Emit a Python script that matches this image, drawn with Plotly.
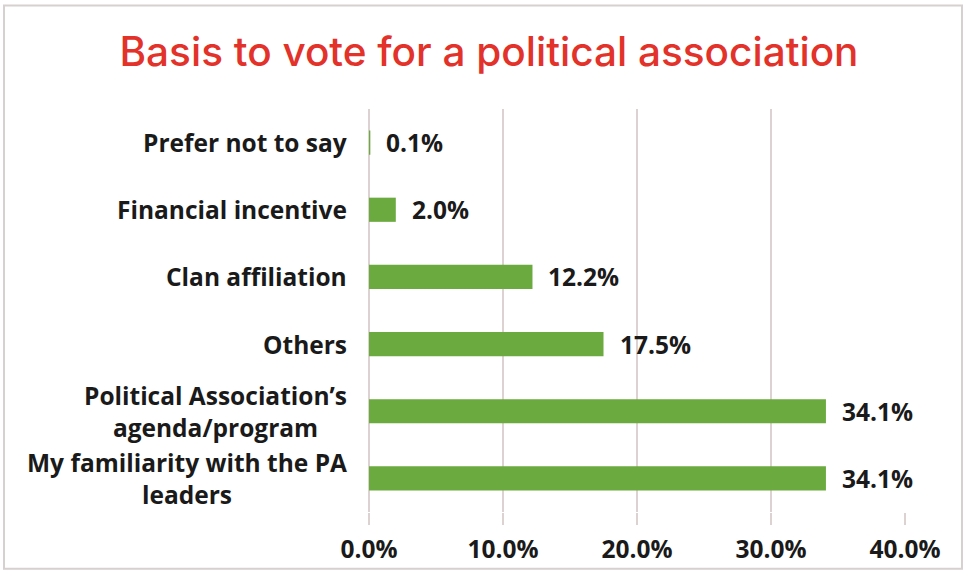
import plotly.graph_objects as go

# Survey categories, listed bottom to top as they appear on the axis
categories = [
    "My familiarity with the PA<br>leaders",
    "Political Association’s<br>agenda/program",
    "Others",
    "Clan affiliation",
    "Financial incentive",
    "Prefer not to say",
]
shares = [34.1, 34.1, 17.5, 12.2, 2.0, 0.1]
x_ticks = [0, 10, 20, 30, 40]
x_tick_labels = ["0.0%", "10.0%", "20.0%", "30.0%", "40.0%"]

W, H = 968, 577
PL, PR, PT, PB = 369, 905, 109, 514  # plot area in pixels

BAR_GREEN = "rgba(106,170,63,0.999)"  # alpha < 1 so sub-pixel bars are not widened
GRID = "#dcd2d2"
TEXT = "#1a1a1a"
LABEL_FONT = "Open Sans"
TITLE_FONT = "Inter"


def px_x(p):
    return (p - PL) / (PR - PL)


def px_y(p):
    return (PB - p) / (PB - PT)


fig = go.Figure(
    go.Bar(
        x=shares,
        y=categories,
        orientation="h",
        marker=dict(color=BAR_GREEN, line=dict(width=0)),
        width=0.36,
        hoverinfo="skip",
    )
)

label_font = dict(family=LABEL_FONT, size=24.5, color=TEXT, weight=700)

annotations = []
# value labels to the right of each bar
for cat, v in zip(categories, shares):
    annotations.append(dict(
        x=v, y=cat, xref="x", yref="y",
        text=f"{v:.1f}%", showarrow=False,
        xanchor="left", yanchor="middle", xshift=14,
        font=label_font,
    ))
# category labels, centred line by line
for cat in categories:
    annotations.append(dict(
        x=0, y=cat, xref="paper", yref="y",
        text=cat, showarrow=False,
        xanchor="right", yanchor="middle", xshift=-20, align="center",
        font=label_font,
    ))

fig.update_layout(
    width=W, height=H,
    margin=dict(l=PL, r=W - PR, t=PT, b=H - PB),
    paper_bgcolor="white", plot_bgcolor="white",
    showlegend=False,
    title=dict(
        text="Basis to vote for a political association",
        x=489 / W, xref="container", xanchor="center",
        y=1 - 52 / H, yref="container", yanchor="middle",
        font=dict(family=TITLE_FONT, size=40.5, color="#e2322a", weight=500),
    ),
    xaxis=dict(
        range=[0, 40], tickvals=x_ticks, ticktext=x_tick_labels,
        showgrid=True, gridcolor=GRID, gridwidth=2,
        zeroline=True, zerolinecolor=GRID, zerolinewidth=2,
        showline=False,
        ticks="outside", ticklen=12, tickwidth=2, tickcolor=GRID,
        ticklabelstandoff=4,
        tickfont=label_font,
        fixedrange=True,
    ),
    yaxis=dict(
        showticklabels=False, showgrid=False, zeroline=False,
        categoryorder="array", categoryarray=categories,
        range=[-0.5, len(categories) - 0.5],
        fixedrange=True,
    ),
    annotations=annotations,
    shapes=[dict(
        type="rect", xref="paper", yref="paper",
        x0=px_x(4), x1=px_x(962), y0=px_y(571), y1=px_y(5),
        line=dict(color="#d6d0d0", width=2), fillcolor="rgba(0,0,0,0)",
        layer="below",
    )],
)

fig.write_html("out.html")
